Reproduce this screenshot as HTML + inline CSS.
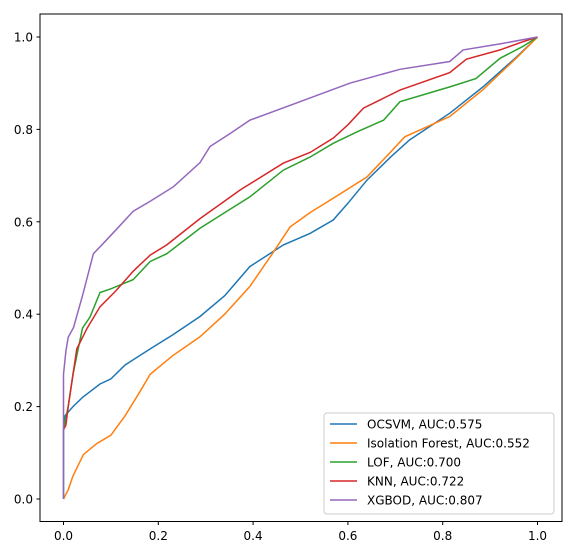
<!DOCTYPE html>
<html><head><meta charset="utf-8"><style>
html,body{margin:0;padding:0;background:#fff;width:575px;height:553px;overflow:hidden}
text{font-family:"DejaVu Sans","Liberation Sans",sans-serif;font-size:12px;fill:#000}
</style></head><body>
<svg id="chart" width="575" height="553" xmlns="http://www.w3.org/2000/svg">
<g id="lines"></g>
<rect x="40" y="14" width="522" height="507.5" fill="none" stroke="#000" stroke-width="1"/>
<g id="axes"></g>
<g id="legend"></g>
</svg>
<script>
const seriesNames = ["OCSVM, AUC:0.575","Isolation Forest, AUC:0.552","LOF, AUC:0.700","KNN, AUC:0.722","XGBOD, AUC:0.807"];
const seriesColors = ["#1f77b4","#ff7f0e","#2ca02c","#d62728","#9467bd"];
const ocsvm = [[0,0],[0,0.15],[0.003,0.18],[0.02,0.2],[0.04,0.22],[0.077,0.249],[0.1,0.26],[0.13,0.29],[0.183,0.325],[0.23,0.355],[0.288,0.395],[0.34,0.44],[0.393,0.503],[0.464,0.55],[0.52,0.575],[0.569,0.604],[0.6,0.64],[0.64,0.69],[0.69,0.74],[0.73,0.777],[0.815,0.835],[0.885,0.892],[0.956,0.957],[1,1]];
const iforest = [[0,0],[0.01,0.02],[0.02,0.05],[0.042,0.096],[0.07,0.12],[0.1,0.138],[0.13,0.18],[0.16,0.23],[0.183,0.27],[0.23,0.31],[0.288,0.351],[0.34,0.4],[0.393,0.46],[0.44,0.53],[0.478,0.589],[0.52,0.62],[0.569,0.651],[0.64,0.697],[0.68,0.74],[0.72,0.784],[0.815,0.828],[0.885,0.886],[0.956,0.955],[1,1]];
const lof = [[0,0.15],[0.01,0.2],[0.02,0.27],[0.03,0.32],[0.04,0.37],[0.056,0.394],[0.077,0.447],[0.1,0.455],[0.147,0.475],[0.183,0.514],[0.218,0.531],[0.288,0.586],[0.34,0.62],[0.393,0.654],[0.464,0.712],[0.52,0.74],[0.569,0.77],[0.62,0.795],[0.675,0.82],[0.71,0.86],[0.815,0.892],[0.87,0.91],[0.921,0.954],[0.97,0.98],[1,1]];
const knn = [[0,0.15],[0.005,0.16],[0.01,0.2],[0.02,0.27],[0.028,0.325],[0.05,0.37],[0.077,0.416],[0.11,0.45],[0.147,0.493],[0.183,0.528],[0.218,0.55],[0.288,0.607],[0.373,0.669],[0.464,0.727],[0.52,0.75],[0.569,0.781],[0.6,0.81],[0.633,0.846],[0.71,0.885],[0.815,0.923],[0.85,0.952],[0.921,0.972],[0.97,0.99],[1,1]];
const xgbod = [[0,0],[0,0.27],[0.005,0.32],[0.01,0.35],[0.021,0.371],[0.04,0.44],[0.063,0.531],[0.09,0.56],[0.112,0.584],[0.147,0.623],[0.182,0.644],[0.232,0.676],[0.288,0.728],[0.309,0.763],[0.35,0.79],[0.393,0.82],[0.499,0.86],[0.604,0.9],[0.71,0.93],[0.815,0.947],[0.843,0.972],[0.921,0.985],[1,1]];
const xTicks = ["0.0","0.2","0.4","0.6","0.8","1.0"];
const yTicks = ["0.0","0.2","0.4","0.6","0.8","1.0"];

const NS="http://www.w3.org/2000/svg";
function sx(v){return 63.5+v*474;}
function sy(v){return 499-v*462;}
const allSeries=[ocsvm,iforest,lof,knn,xgbod];
const keys=["ocsvm","isolation-forest","lof","knn","xgbod"];
const lg=document.getElementById("lines");
allSeries.forEach((s,i)=>{
  const p=document.createElementNS(NS,"polyline");
  p.setAttribute("points",s.map(d=>sx(d[0]).toFixed(1)+","+sy(d[1]).toFixed(1)).join(" "));
  p.setAttribute("fill","none");p.setAttribute("stroke",seriesColors[i]);p.setAttribute("stroke-width","1.5");
  
  
  lg.appendChild(p);
});
const ax=document.getElementById("axes");
xTicks.forEach(t=>{
  const v=parseFloat(t),x=sx(v);
  const l=document.createElementNS(NS,"line");
  l.setAttribute("x1",x);l.setAttribute("x2",x);l.setAttribute("y1",521.5);l.setAttribute("y2",525);l.setAttribute("stroke","#000");
  
  
  ax.appendChild(l);
  const tx=document.createElementNS(NS,"text");
  tx.setAttribute("x",x);tx.setAttribute("y",540);tx.setAttribute("text-anchor","middle");tx.textContent=t;
  
  
  ax.appendChild(tx);
});
yTicks.forEach(t=>{
  const v=parseFloat(t),y=sy(v);
  const l=document.createElementNS(NS,"line");
  l.setAttribute("x1",36.5);l.setAttribute("x2",40);l.setAttribute("y1",y);l.setAttribute("y2",y);l.setAttribute("stroke","#000");
  
  
  ax.appendChild(l);
  const tx=document.createElementNS(NS,"text");
  tx.setAttribute("x",33);tx.setAttribute("y",y+4.5);tx.setAttribute("text-anchor","end");tx.textContent=t;
  
  
  ax.appendChild(tx);
});
const leg=document.getElementById("legend");
const box=document.createElementNS(NS,"rect");
box.setAttribute("x",324);box.setAttribute("y",413);box.setAttribute("width",230);box.setAttribute("height",101);
box.setAttribute("rx",3);box.setAttribute("fill","#fff");box.setAttribute("fill-opacity","0.8");box.setAttribute("stroke","#ccc");


leg.appendChild(box);
seriesNames.forEach((n,i)=>{
  const y=424+i*19;
  const l=document.createElementNS(NS,"line");
  l.setAttribute("x1",330);l.setAttribute("x2",357);l.setAttribute("y1",y);l.setAttribute("y2",y);
  l.setAttribute("stroke",seriesColors[i]);l.setAttribute("stroke-width","1.5");
  
  
  leg.appendChild(l);
  const tx=document.createElementNS(NS,"text");
  tx.setAttribute("x",367);tx.setAttribute("y",y+4.5);tx.textContent=n;
  
  
  leg.appendChild(tx);
});
</script>
</body></html>
